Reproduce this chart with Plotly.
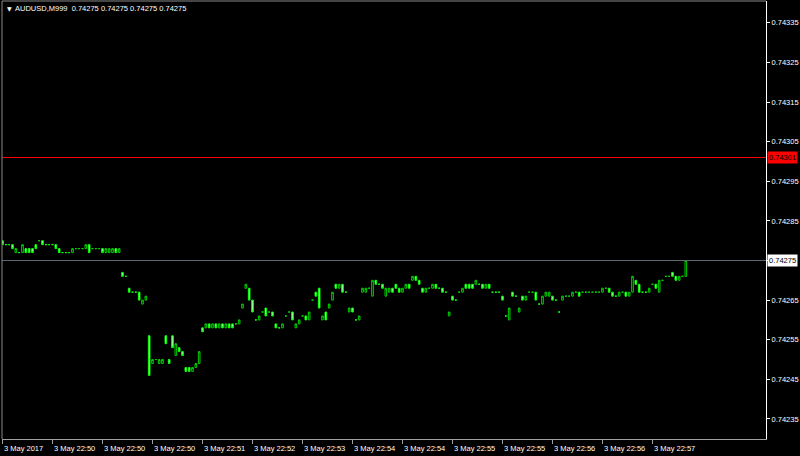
import plotly.graph_objects as go

# ---------------- data ----------------
open_price = [
    0.74280, 0.74279, 0.74279, 0.74279, 0.74277, 0.74277, 0.74277, 0.74278, 0.74278, 0.74278,
    0.74279, 0.74280, 0.74280, 0.74279, 0.74279, 0.74279, 0.74279, 0.74278, 0.74277, 0.74277,
    0.74277, 0.74277, 0.74278, 0.74278, 0.74278, 0.74278, 0.74279, 0.74278, 0.74278, 0.74278,
    0.74278, 0.74277, 0.74277, 0.74277, 0.74278, 0.74277, 0.74272, 0.74271, 0.74268, 0.74267,
    0.74267, 0.74267, 0.74264, 0.74265, 0.74256, 0.74249, 0.74250, 0.74249, 0.74249, 0.74256,
    0.74250, 0.74256, 0.74251, 0.74253, 0.74252, 0.74248, 0.74248, 0.74247, 0.74248, 0.74249,
    0.74258, 0.74258, 0.74259, 0.74258, 0.74259, 0.74258, 0.74259, 0.74258, 0.74259, 0.74259,
    0.74259, 0.74259, 0.74263, 0.74268, 0.74268, 0.74265, 0.74260, 0.74260, 0.74262, 0.74263,
    0.74262, 0.74262, 0.74259, 0.74258, 0.74258, 0.74261, 0.74262, 0.74262, 0.74258, 0.74259,
    0.74261, 0.74261, 0.74260, 0.74265, 0.74267, 0.74268, 0.74260, 0.74262, 0.74263, 0.74265,
    0.74269, 0.74268, 0.74269, 0.74267, 0.74262, 0.74263, 0.74260, 0.74260, 0.74267, 0.74267,
    0.74268, 0.74266, 0.74270, 0.74269, 0.74269, 0.74266, 0.74267, 0.74268, 0.74269,
    0.74268, 0.74267, 0.74268, 0.74269, 0.74270, 0.74271, 0.74270, 0.74268, 0.74267,
    0.74268, 0.74268, 0.74269, 0.74268, 0.74268, 0.74267, 0.74261, 0.74266, 0.74265, 0.74267,
    0.74267, 0.74269, 0.74269, 0.74269, 0.74269, 0.74269, 0.74269, 0.74268, 0.74269, 0.74267,
    0.74267, 0.74267, 0.74266, 0.74261, 0.74260, 0.74267, 0.74266, 0.74262, 0.74266,
    0.74265, 0.74267, 0.74267, 0.74267, 0.74264, 0.74264, 0.74266, 0.74266, 0.74266, 0.74265,
    0.74262, 0.74265, 0.74266, 0.74266, 0.74266, 0.74267, 0.74267, 0.74267, 0.74267,
    0.74267, 0.74267, 0.74267, 0.74267, 0.74267, 0.74268, 0.74268, 0.74267, 0.74266, 0.74266,
    0.74267, 0.74267, 0.74266, 0.74267, 0.74270, 0.74269, 0.74267, 0.74267, 0.74267, 0.74269,
    0.74269, 0.74267, 0.74270, 0.74271, 0.74271, 0.74272, 0.74271, 0.74270, 0.74271,
    0.74271,
]

close_price = [
    0.74279, 0.74279, 0.74279, 0.74278, 0.74278, 0.74277, 0.74279, 0.74277, 0.74277, 0.74277,
    0.74278, 0.74280, 0.74279, 0.74279, 0.74279, 0.74279, 0.74278, 0.74277, 0.74277, 0.74277,
    0.74277, 0.74278, 0.74278, 0.74278, 0.74278, 0.74279, 0.74277, 0.74278, 0.74278, 0.74278,
    0.74277, 0.74278, 0.74278, 0.74278, 0.74277, 0.74278, 0.74271, 0.74271, 0.74267, 0.74267,
    0.74267, 0.74265, 0.74265, 0.74266, 0.74246, 0.74250, 0.74250, 0.74250, 0.74250, 0.74254,
    0.74249, 0.74253, 0.74254, 0.74252, 0.74251, 0.74247, 0.74247, 0.74248, 0.74249, 0.74252,
    0.74257, 0.74259, 0.74258, 0.74259, 0.74258, 0.74259, 0.74258, 0.74259, 0.74258, 0.74258,
    0.74259, 0.74260, 0.74264, 0.74269, 0.74265, 0.74262, 0.74260, 0.74261, 0.74262, 0.74261,
    0.74262, 0.74261, 0.74258, 0.74258, 0.74259, 0.74261, 0.74262, 0.74260, 0.74259, 0.74260,
    0.74261, 0.74260, 0.74262, 0.74265, 0.74266, 0.74263, 0.74261, 0.74260, 0.74264, 0.74267,
    0.74268, 0.74269, 0.74267, 0.74267, 0.74263, 0.74262, 0.74260, 0.74261, 0.74268, 0.74268,
    0.74268, 0.74270, 0.74269, 0.74269, 0.74268, 0.74268, 0.74268, 0.74267, 0.74268,
    0.74267, 0.74268, 0.74269, 0.74268, 0.74271, 0.74270, 0.74269, 0.74267, 0.74268,
    0.74268, 0.74269, 0.74268, 0.74268, 0.74267, 0.74267, 0.74262, 0.74265, 0.74265, 0.74267,
    0.74268, 0.74268, 0.74268, 0.74268, 0.74270, 0.74269, 0.74268, 0.74269, 0.74268, 0.74267,
    0.74267, 0.74267, 0.74265, 0.74261, 0.74263, 0.74266, 0.74266, 0.74263, 0.74265,
    0.74266, 0.74267, 0.74267, 0.74265, 0.74264, 0.74266, 0.74267, 0.74267, 0.74265, 0.74265,
    0.74262, 0.74266, 0.74266, 0.74266, 0.74267, 0.74267, 0.74266, 0.74267, 0.74267,
    0.74267, 0.74267, 0.74267, 0.74267, 0.74268, 0.74268, 0.74267, 0.74266, 0.74266, 0.74267,
    0.74267, 0.74266, 0.74267, 0.74271, 0.74269, 0.74267, 0.74267, 0.74267, 0.74268, 0.74269,
    0.74268, 0.74270, 0.74270, 0.74271, 0.74271, 0.74271, 0.74270, 0.74271, 0.74271,
    0.74275,
]

bar_index = list(range(len(open_price)))
high_price = [max(o, c) for o, c in zip(open_price, close_price)]
low_price = [min(o, c) for o, c in zip(open_price, close_price)]

time_tick_bars = [0, 15, 30, 45, 60, 75, 90, 105, 120, 135, 150, 165, 180, 195]
time_tick_labels = ["3 May 2017", "3 May 22:50", "3 May 22:50", "3 May 22:50",
                    "3 May 22:51", "3 May 22:52", "3 May 22:53", "3 May 22:54",
                    "3 May 22:54", "3 May 22:55", "3 May 22:55", "3 May 22:56",
                    "3 May 22:56", "3 May 22:57"]

price_ticks = [0.74235, 0.74245, 0.74255, 0.74265, 0.74275, 0.74285,
               0.74295, 0.74305, 0.74315, 0.74325, 0.74335]
# the 0.74275 level is labelled by the white last-price box instead
price_tick_text = ["0.74235", "0.74245", "0.74255", "0.74265", "", "0.74285",
                   "0.74295", "0.74305", "0.74315", "0.74325", "0.74335"]

level_line = 0.74301
last_price = 0.74275
header_text = "AUDUSD,M999\u00a0\u00a00.74275 0.74275 0.74275 0.74275"

FONT = "Liberation Sans"

# ---------------- figure ----------------
fig = go.Figure()

fig.add_trace(go.Candlestick(
    x=bar_index, open=open_price, high=high_price, low=low_price, close=close_price,
    increasing=dict(line=dict(color="#00d000", width=1), fillcolor="#000000"),
    decreasing=dict(line=dict(color="#00ff00", width=1), fillcolor="#c8ffc8"),
    whiskerwidth=0, hoverinfo="skip", showlegend=False,
))

fig.add_hline(y=level_line, line=dict(color="#ff0000", width=1))
fig.add_hline(y=last_price, line=dict(color="#5d6872", width=1))

fig.add_shape(type="line", xref="paper", yref="paper", x0=0, x1=0, y0=0, y1=1,
              line=dict(color="#8a8a8a", width=1))
fig.add_shape(type="line", xref="paper", yref="paper", x0=0, x1=1, y0=1, y1=1,
              line=dict(color="#8a8a8a", width=1))

annotations = []
for tb, tl in zip(time_tick_bars, time_tick_labels):
    annotations.append(dict(x=tb, xref="x", y=0, yref="paper", yanchor="top",
                            xanchor="left", yshift=-3, xshift=-1, text=tl, showarrow=False,
                            font=dict(family=FONT, size=7.5, color="#ffffff")))

annotations.append(dict(x=1, xref="paper", y=level_line, yref="y", xanchor="left",
                        xshift=1, text="0.74301", showarrow=False, bgcolor="#ff0000",
                        borderpad=1, font=dict(family=FONT, size=7.5, color="#000000")))
annotations.append(dict(x=1, xref="paper", y=last_price, yref="y", xanchor="left",
                        xshift=1, text="0.74275", showarrow=False, bgcolor="#ffffff",
                        borderpad=1, font=dict(family=FONT, size=7.5, color="#000000")))

annotations.append(dict(x=0, xref="paper", y=1, yref="paper", xanchor="left",
                        yanchor="top", xshift=3, yshift=-2, text="\u25bc", showarrow=False,
                        font=dict(family="DejaVu Sans", size=6, color="#ffffff")))
annotations.append(dict(x=0, xref="paper", y=1, yref="paper", xanchor="left",
                        yanchor="top", xshift=11, yshift=-1, text=header_text, showarrow=False,
                        font=dict(family=FONT, size=7.5, color="#ffffff")))

fig.update_layout(
    width=800, height=456,
    margin=dict(l=2, r=34, t=1, b=17, autoexpand=False),
    paper_bgcolor="#000000", plot_bgcolor="#000000",
    showlegend=False, hovermode=False,
    boxgap=0.3,
    annotations=annotations,
    xaxis=dict(range=[-0.15, 229.05], rangeslider=dict(visible=False),
               showgrid=False, zeroline=False, showticklabels=False,
               tickmode="array", tickvals=time_tick_bars, ticks="outside",
               ticklen=4, tickcolor="#a0a0a0", tickwidth=1,
               showline=True, linecolor="#a0a0a0", linewidth=1),
    yaxis=dict(range=[0.74229941, 0.74340505], side="right", showgrid=False,
               zeroline=False, tickmode="array", tickvals=price_ticks,
               ticktext=price_tick_text, ticks="outside", ticklen=3,
               tickcolor="#ffffff",
               tickfont=dict(family=FONT, size=7.5, color="#ffffff"),
               showline=True, linecolor="#ffffff", linewidth=1),
)

fig.write_html("out.html", config={"displayModeBar": False},
               post_script="document.body.style.margin='0';document.body.style.background='#000';")
